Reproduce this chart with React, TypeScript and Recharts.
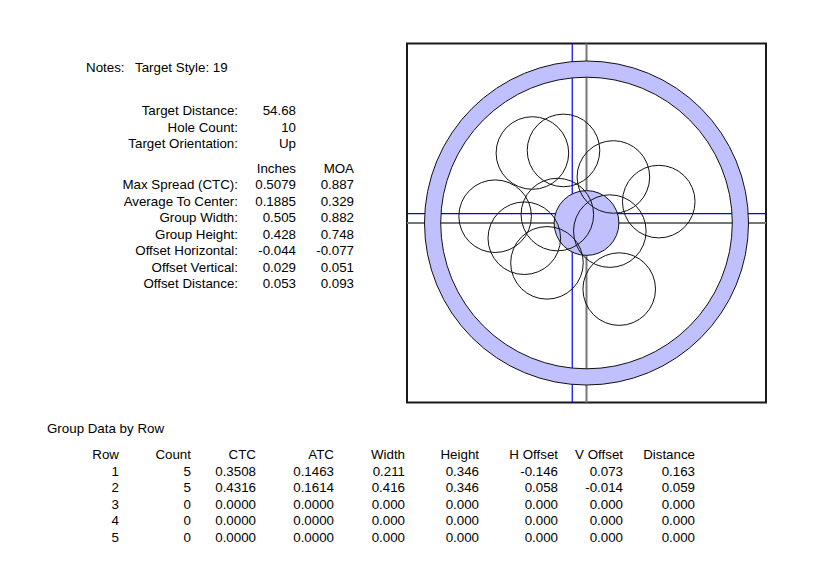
import React from "react";
import { ScatterChart, Scatter, XAxis, YAxis, ReferenceLine, ReferenceArea } from "recharts";

// hole centres, inches from the aim point (x right, y up)
const holeX = [-0.167, -0.071, 0.083, 0.223, -0.282, -0.09, -0.192, -0.122, 0.072, 0.101];
const holeY = [0.216, 0.224, 0.142, 0.066, 0.021, 0.026, -0.047, -0.123, -0.025, -0.204];
const HOLE_DIAMETER = 0.224;

const groupCenter = { x: -0.044, y: 0.029 };
const ringOuter = 0.5;
const ringInner = 0.45;
const bullRadius = 0.1;

const notes = "Target Style: 19";
const summaryLabels = ["Target Distance:", "Hole Count:", "Target Orientation:"];
const summaryValues = ["54.68", "10", "Up"];

const statLabels = [
  "Max Spread (CTC):",
  "Average To Center:",
  "Group Width:",
  "Group Height:",
  "Offset Horizontal:",
  "Offset Vertical:",
  "Offset Distance:",
];
const statInches = ["0.5079", "0.1885", "0.505", "0.428", "-0.044", "0.029", "0.053"];
const statMoa = ["0.887", "0.329", "0.882", "0.748", "-0.077", "0.051", "0.093"];

const rowColumns = ["Row", "Count", "CTC", "ATC", "Width", "Height", "H Offset", "V Offset", "Distance"];
const rowData = [
  ["1", "5", "0.3508", "0.1463", "0.211", "0.346", "-0.146", "0.073", "0.163"],
  ["2", "5", "0.4316", "0.1614", "0.416", "0.346", "0.058", "-0.014", "0.059"],
  ["3", "0", "0.0000", "0.0000", "0.000", "0.000", "0.000", "0.000", "0.000"],
  ["4", "0", "0.0000", "0.0000", "0.000", "0.000", "0.000", "0.000", "0.000"],
  ["5", "0", "0.0000", "0.0000", "0.000", "0.000", "0.000", "0.000", "0.000"],
];

const W = 815;
const H = 565;
const HALF = 0.554;
const MARGIN = { top: 43.5, right: 49, bottom: 162.5, left: 407 };
const PLOT = W - MARGIN.left - MARGIN.right;
const PX_PER_IN = PLOT / (2 * HALF);

const FONT = "'Liberation Sans', Arial, sans-serif";
const LINE = 16.5;
const LAVENDER = "#c0c0ff";

const holes = holeX.map((x, i) => ({ x, y: holeY[i] }));
const target = [{ x: 0, y: 0 }];

const TargetShape = (props: any) => {
  const { cx, cy } = props;
  const ro = ringOuter * PX_PER_IN;
  const ri = ringInner * PX_PER_IN;
  const rb = bullRadius * PX_PER_IN;
  const ring =
    `M${cx - ro},${cy} a${ro},${ro} 0 1,0 ${2 * ro},0 a${ro},${ro} 0 1,0 ${-2 * ro},0 Z ` +
    `M${cx - ri},${cy} a${ri},${ri} 0 1,0 ${2 * ri},0 a${ri},${ri} 0 1,0 ${-2 * ri},0 Z`;
  return (
    <g>
      <path d={ring} fill={LAVENDER} fillRule="evenodd" stroke="#111" strokeWidth={1} />
      <circle cx={cx} cy={cy} r={rb} fill={LAVENDER} stroke="#111" strokeWidth={1} />
    </g>
  );
};

const HoleShape = (props: any) => (
  <circle cx={props.cx} cy={props.cy} r={(HOLE_DIAMETER / 2) * PX_PER_IN} fill="none" stroke="#111" strokeWidth={1} />
);

const colRight = [119, 191, 256, 334, 405, 479, 558, 623, 695];

function TextPanel() {
  const t = { fontFamily: FONT, fontSize: 13.33, fill: "#000" };
  return (
    <svg width={W} height={H} style={{ position: "absolute", left: 0, top: 0, pointerEvents: "none" }}>
      <text x={86} y={72.3} {...t}>Notes:</text>
      <text x={135} y={72.3} {...t}>{notes}</text>
      {summaryLabels.map((s, i) => (
        <g key={s}>
          <text x={238} y={115.3 + i * LINE} textAnchor="end" {...t}>{s}</text>
          <text x={296} y={115.3 + i * LINE} textAnchor="end" {...t}>{summaryValues[i]}</text>
        </g>
      ))}
      <text x={296} y={172.7} textAnchor="end" {...t}>Inches</text>
      <text x={354} y={172.7} textAnchor="end" {...t}>MOA</text>
      {statLabels.map((s, i) => (
        <g key={s}>
          <text x={238} y={189.2 + i * LINE} textAnchor="end" {...t}>{s}</text>
          <text x={296} y={189.2 + i * LINE} textAnchor="end" {...t}>{statInches[i]}</text>
          <text x={354} y={189.2 + i * LINE} textAnchor="end" {...t}>{statMoa[i]}</text>
        </g>
      ))}
      <text x={47} y={433} {...t}>Group Data by Row</text>
      {rowColumns.map((c, j) => (
        <text key={c} x={colRight[j]} y={459} textAnchor="end" {...t}>{c}</text>
      ))}
      {rowData.map((r, i) =>
        r.map((v, j) => (
          <text key={`${i}-${j}`} x={colRight[j]} y={475.5 + i * LINE} textAnchor="end" {...t}>{v}</text>
        ))
      )}
    </svg>
  );
}

export default function App() {
  return (
    <div style={{ position: "absolute", left: 0, top: 0, width: W, height: H, background: "#fff" }}>
      <ScatterChart width={W} height={H} margin={MARGIN}>
        <XAxis type="number" dataKey="x" domain={[-HALF, HALF]} hide allowDataOverflow />
        <YAxis type="number" dataKey="y" domain={[-HALF, HALF]} hide allowDataOverflow />
        <Scatter data={target} shape={TargetShape} isAnimationActive={false} />
        <ReferenceLine x={0} stroke="#777" strokeWidth={2} />
        <ReferenceLine y={0} stroke="#777" strokeWidth={2} />
        <ReferenceLine x={groupCenter.x} stroke="#0000ff" strokeWidth={1.2} />
        <ReferenceLine y={groupCenter.y} stroke="#0000ff" strokeWidth={1.2} />
        <Scatter data={holes} shape={HoleShape} isAnimationActive={false} />
        <ReferenceArea x1={-HALF} x2={HALF} y1={-HALF} y2={HALF} fill="none" fillOpacity={0} stroke="#1a1a1a" strokeWidth={2} strokeOpacity={1} />
      </ScatterChart>
      <TextPanel />
    </div>
  );
}
